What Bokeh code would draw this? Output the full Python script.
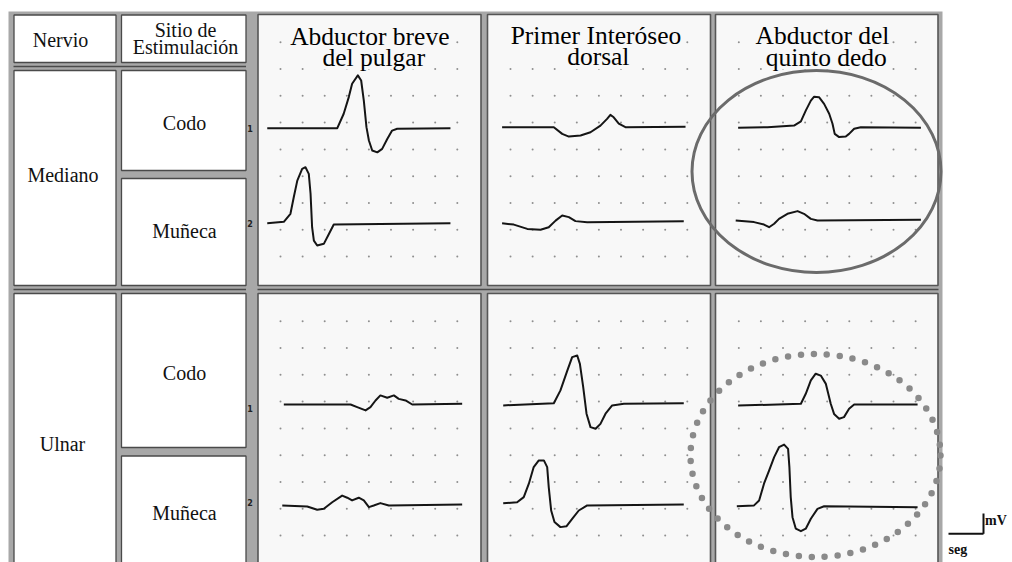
from bokeh.plotting import figure
from bokeh.models import Range1d, ColumnDataSource
from bokeh.core.properties import value
from bokeh.embed import file_html
from bokeh.resources import INLINE

# ---------------- data ----------------
NERVES = ["Mediano", "Ulnar"]
SITES = ["Codo", "Muñeca"]
MUSCLE_LINE1 = ["Abductor breve", "Primer Interóseo", "Abductor del"]
MUSCLE_LINE2 = ["del pulgar", "dorsal", "quinto dedo"]
HEADER_NERVE = "Nervio"
HEADER_SITE = ["Sitio de", "Estimulación"]
TRACE_NUMBERS = ["1", "2"]
UNIT_Y = "mV"
UNIT_X = "seg"

# waveforms: time in grid divisions, amplitude in grid divisions (up = positive)
MED_CODO_APB_T = [-0.6, 2.57, 2.86, 3.09, 3.24, 3.50, 3.65, 3.77, 3.89, 4.00, 4.15, 4.38, 4.60, 4.83, 5.05, 5.28, 7.69]
MED_CODO_APB_A = [0, 0, 0.54, 1.16, 1.66, 1.97, 1.78, 1.03, 0.04, -0.46, -0.83, -0.90, -0.77, -0.40, -0.09, -0.02, 0]
MED_MUN_APB_T = [-0.6, 0.15, 0.45, 0.60, 0.76, 0.98, 1.13, 1.28, 1.36, 1.43, 1.51, 1.66, 1.96, 2.19, 2.41, 7.69]
MED_MUN_APB_A = [0, 0.05, 0.35, 0.97, 1.59, 2.03, 2.09, 1.84, 1.10, -0.15, -0.65, -0.83, -0.77, -0.40, -0.05, 0]

MED_CODO_FDI_T = [-0.38, 1.96, 2.34, 2.64, 3.17, 3.62, 4.07, 4.37, 4.52, 4.67, 4.90, 5.20, 7.92]
MED_CODO_FDI_A = [0, 0, -0.25, -0.35, -0.31, -0.19, 0.06, 0.31, 0.46, 0.37, 0.13, 0, 0.02]
MED_MUN_FDI_T = [-0.38, 0.15, 0.76, 1.36, 1.73, 2.04, 2.34, 2.64, 2.94, 3.47, 7.84]
MED_MUN_FDI_A = [-0.04, -0.09, -0.25, -0.28, -0.19, 0.06, 0.25, 0.19, 0.04, 0, 0.04]

MED_CODO_ADM_T = [-0.03, 1.30, 2.50, 2.81, 3.03, 3.26, 3.41, 3.63, 3.86, 4.09, 4.24, 4.34, 4.54, 4.84, 4.99, 5.22, 5.52, 8.24]
MED_CODO_ADM_A = [-0.02, 0, 0.06, 0.22, 0.62, 0.99, 1.14, 1.12, 0.87, 0.50, 0.13, -0.25, -0.37, -0.35, -0.25, -0.06, 0, -0.02]
MED_MUN_ADM_T = [-0.14, 0.69, 1.14, 1.37, 1.60, 1.82, 2.20, 2.66, 2.95, 3.26, 3.56, 8.24]
MED_MUN_ADM_A = [0, -0.06, -0.15, -0.25, -0.12, 0.06, 0.25, 0.35, 0.25, 0.06, 0, 0.03]

ULN_CODO_APB_T = [0.15, 3.17, 3.47, 3.85, 4.07, 4.30, 4.52, 4.83, 5.13, 5.35, 5.66, 5.96, 8.22]
ULN_CODO_APB_A = [0, 0, -0.10, -0.22, -0.10, 0.15, 0.34, 0.25, 0.34, 0.21, 0.15, 0, 0.03]
ULN_MUN_APB_T = [0.08, 1.21, 1.66, 1.96, 2.34, 2.79, 3.02, 3.24, 3.54, 3.77, 4.00, 4.22, 4.52, 4.90, 8.22]
ULN_MUN_APB_A = [0, -0.04, -0.16, -0.12, 0.12, 0.37, 0.29, 0.19, 0.29, 0.19, -0.06, 0, 0.09, 0, 0.04]

ULN_CODO_FDI_T = [-0.33, 1.96, 2.26, 2.57, 2.79, 3.02, 3.14, 3.29, 3.44, 3.62, 3.85, 4.07, 4.30, 4.60, 5.13, 7.84]
ULN_CODO_FDI_A = [-0.06, 0.02, 0.50, 1.24, 1.74, 1.80, 1.49, 0.62, -0.37, -0.87, -0.93, -0.75, -0.37, -0.06, 0, 0.02]
ULN_MUN_FDI_T = [-0.33, 0.30, 0.60, 0.83, 1.05, 1.28, 1.51, 1.66, 1.73, 1.84, 1.99, 2.26, 2.53, 2.79, 3.09, 3.47, 7.84]
ULN_MUN_FDI_A = [0.02, 0.06, 0.25, 0.75, 1.37, 1.62, 1.62, 1.37, 0.62, -0.25, -0.68, -0.87, -0.84, -0.56, -0.25, -0.06, -0.03]

ULN_CODO_ADM_T = [-0.03, 2.81, 3.03, 3.26, 3.48, 3.71, 3.94, 4.16, 4.31, 4.54, 4.76, 4.99, 5.22, 8.09]
ULN_CODO_ADM_A = [-0.03, 0.04, 0.41, 0.91, 1.16, 1.09, 0.78, 0.04, -0.34, -0.52, -0.46, -0.15, 0.01, 0.01]
ULN_MUN_ADM_T = [-0.09, 0.69, 0.92, 1.14, 1.37, 1.60, 1.82, 2.05, 2.23, 2.29, 2.35, 2.43, 2.58, 2.81, 3.03, 3.26, 3.56, 3.86, 8.09]
ULN_MUN_ADM_A = [0, 0.03, 0.21, 0.84, 1.33, 1.83, 2.20, 2.30, 2.14, 1.45, 0.34, -0.41, -0.84, -0.93, -0.84, -0.47, -0.10, 0, -0.04]

TRACES = [
    [[(MED_CODO_APB_T, MED_CODO_APB_A), (MED_CODO_FDI_T, MED_CODO_FDI_A), (MED_CODO_ADM_T, MED_CODO_ADM_A)],
     [(MED_MUN_APB_T, MED_MUN_APB_A), (MED_MUN_FDI_T, MED_MUN_FDI_A), (MED_MUN_ADM_T, MED_MUN_ADM_A)]],
    [[(ULN_CODO_APB_T, ULN_CODO_APB_A), (ULN_CODO_FDI_T, ULN_CODO_FDI_A), (ULN_CODO_ADM_T, ULN_CODO_ADM_A)],
     [(ULN_MUN_APB_T, ULN_MUN_APB_A), (ULN_MUN_FDI_T, ULN_MUN_FDI_A), (ULN_MUN_ADM_T, ULN_MUN_ADM_A)]],
]

# ---------------- layout (page pixels) ----------------
X0, X1, Y0, Y1 = 0, 1012, 0, 562
GRID_COLS, GRID_ROWS = 9, 9
DX, DY = 22.1, 26.8
PANEL_L = [257.5, 487.0, 715.0]
PANEL_R = [480.5, 710.0, 937.5]
ROW_T = [14.0, 293.0]
ROW_B = [285.0, 575.0]
GRID_X0 = [280.0, 510.0, 738.3]
GRID_Y0 = [41.7, 320.7]
BASE_Y = [[[127.7, 126.7, 126.7], [222.7, 221.7, 220.0]],
          [[404.0, 403.3, 404.3], [505.0, 503.3, 505.7]]]
SITE_T = [[70.0, 178.0], [293.0, 455.5]]
SITE_B = [[170.0, 285.0], [447.0, 575.0]]
NERVE_TXT_Y = [174.0, 443.0]
SITE_TXT_Y = [[122.5, 230.8], [372.7, 512.2]]
NUM_Y = [[127.7, 222.7], [408.3, 501.7]]
TITLE_X1 = [369.3, 595.5, 822.0]
TITLE_X2 = [373.3, 597.8, 825.8]
TITLE_Y1 = [35.5, 34.7, 34.7]
TITLE_Y2 = [56.5, 56.2, 56.5]
TITLE_W1 = [164, 176, 138]     # masked area behind the titles
TITLE_W2 = [107, 65, 126]

GREY = "#a8a8a8"
DARK = "#4a4a4a"
PANEL_BG = "#f8f8f8"
SERIF = value("Liberation Serif")

p = figure(width=1012, height=562, x_range=Range1d(X0, X1), y_range=Range1d(Y1, Y0),
           x_axis_type=None, y_axis_type=None, toolbar_location=None,
           output_backend="svg", min_border=0)
p.outline_line_color = None
p.grid.visible = False
p.background_fill_color = "white"
p.border_fill_color = "white"

# grey frame of the table
p.quad(left=[8], right=[942], top=[11], bottom=[575], fill_color=GREY, line_color=None)

# white cells
cl, cr, ct, cb = [], [], [], []
cl += [13.5, 121.0]; cr += [115.5, 245.5]; ct += [14.5, 14.5]; cb += [62.0, 62.0]
for n in range(2):
    cl.append(13.5); cr.append(115.5); ct.append(ROW_T[n] if n else 70.0); cb.append(ROW_B[n])
    for s in range(2):
        cl.append(121.0); cr.append(245.5); ct.append(SITE_T[n][s]); cb.append(SITE_B[n][s])
p.quad(left=cl, right=cr, top=ct, bottom=cb, fill_color="white", line_color=DARK, line_width=1.3)

# separating dark lines in the grey bands
p.segment(x0=[13, 13, 257], y0=[66, 289, 289], x1=[245.5, 245.5, 938], y1=[66, 289, 289],
          line_color=DARK, line_width=1.4)

# panels
pl, pr, pt, pb = [], [], [], []
for n in range(2):
    for c in range(3):
        pl.append(PANEL_L[c]); pr.append(PANEL_R[c]); pt.append(ROW_T[n]); pb.append(ROW_B[n])
p.quad(left=pl, right=pr, top=pt, bottom=pb, fill_color=PANEL_BG, line_color="#555555", line_width=1.6)

# dot grid
dx_, dy_ = [], []
for n in range(2):
    for c in range(3):
        for i in range(GRID_COLS):
            for j in range(GRID_ROWS):
                dx_.append(GRID_X0[c] + i * DX)
                dy_.append(GRID_Y0[n] + j * DY)
p.scatter(x=dx_, y=dy_, size=2.0, marker="circle", fill_color="#8f8f8f", line_color=None)

# masks behind the panel titles (hide the dots under the words)
p.rect(x=TITLE_X1, y=TITLE_Y1, width=TITLE_W1, height=[18] * 3, fill_color=PANEL_BG, line_color=None)
p.rect(x=TITLE_X2, y=TITLE_Y2, width=TITLE_W2, height=[25] * 3, fill_color=PANEL_BG, line_color=None)

# panel titles
p.text(x=TITLE_X1, y=TITLE_Y1, text=MUSCLE_LINE1, text_font=SERIF, text_font_size="25.5px",
       text_align="center", text_baseline="middle", text_color="#000000")
p.text(x=TITLE_X2, y=TITLE_Y2, text=MUSCLE_LINE2, text_font=SERIF, text_font_size="25.5px",
       text_align="center", text_baseline="middle", text_color="#000000")

# header texts
p.text(x=[60.0], y=[39.3], text=[HEADER_NERVE], text_font=SERIF, text_font_size="20px",
       text_align="center", text_baseline="middle", text_color="#111111")
p.text(x=[185.0, 185.0], y=[29.7, 46.3], text=HEADER_SITE, text_font=SERIF, text_font_size="20px",
       text_align="center", text_baseline="middle", text_color="#111111")

# nerve / site texts
p.text(x=[62.5, 62.0], y=NERVE_TXT_Y, text=NERVES, text_font=SERIF, text_font_size="20px",
       text_align="center", text_baseline="middle", text_color="#111111")
sx, sy, st = [], [], []
for n in range(2):
    for s in range(2):
        sx.append(184.0); sy.append(SITE_TXT_Y[n][s]); st.append(SITES[s])
p.text(x=sx, y=sy, text=st, text_font=SERIF, text_font_size="20px",
       text_align="center", text_baseline="middle", text_color="#111111")

# trace numbers
nx, ny, nt = [], [], []
for n in range(2):
    for s in range(2):
        nx.append(249.5); ny.append(NUM_Y[n][s]); nt.append(TRACE_NUMBERS[s])
p.text(x=nx, y=ny, text=nt, text_font=value("DejaVu Sans"), text_font_size="8px", text_font_style="bold",
       text_align="center", text_baseline="middle", text_color="#222222")

# waveform traces, each through its own time / amplitude scale
for c in range(3):
    gx = GRID_X0[c]
    p.extra_x_ranges[f"t{c}"] = Range1d((X0 - gx) / DX, (X1 - gx) / DX)
for n in range(2):
    for s in range(2):
        for c in range(3):
            yb = BASE_Y[n][s][c]
            name = f"a{n}{s}{c}"
            p.extra_y_ranges[name] = Range1d((yb - Y1) / DY, (yb - Y0) / DY)
            t, a = TRACES[n][s][c]
            src = ColumnDataSource(dict(t=t, a=a))
            p.line(x="t", y="a", source=src, x_range_name=f"t{c}", y_range_name=name,
                   line_color="#151515", line_width=2.0, line_join="round")

# highlight ellipses
p.ellipse(x=[816.0], y=[171.0], width=[249.0], height=[202.0], fill_color=None,
          line_color="#6b6b6b", line_width=3)
p.ellipse(x=[815.0], y=[455.0], width=[250.0], height=[203.0], fill_color=None,
          line_color="#8a8a8a", line_width=6.5, line_dash="0 13", line_cap="round")

# scale bar
p.segment(x0=[948, 983], y0=[533.3, 513], x1=[983, 983], y1=[533.3, 533.3],
          line_color="#111111", line_width=2)
p.text(x=[984.5], y=[519.5], text=[UNIT_Y], text_font=SERIF, text_font_size="14px", text_font_style="bold",
       text_align="left", text_baseline="middle", text_color="#111111")
p.text(x=[948.0], y=[541.0], text=[UNIT_X], text_font=SERIF, text_font_size="14px", text_font_style="bold",
       text_align="left", text_baseline="top", text_color="#111111")

open("out.html", "w").write(file_html(p, INLINE))
